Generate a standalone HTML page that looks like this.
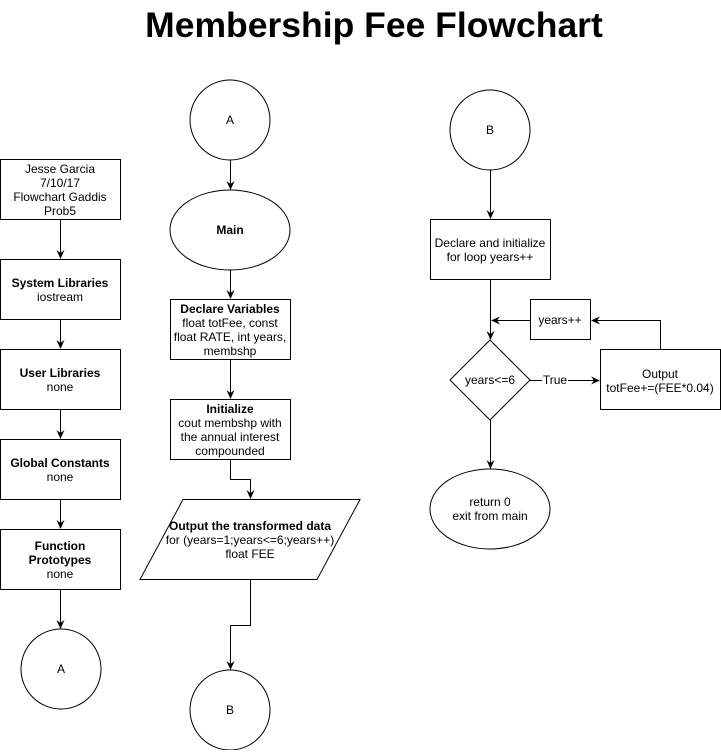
<!DOCTYPE html>
<html><head><meta charset="utf-8"><style>
body{margin:0;background:#fff;width:721px;height:750px;overflow:hidden}
text{font-family:"Liberation Sans",Arial,sans-serif;font-size:12px;fill:#000}
.b{font-weight:bold}
</style></head><body>
<svg width="721" height="750" viewBox="0 0 721 750" xmlns="http://www.w3.org/2000/svg">
<defs><marker id="a" markerWidth="10" markerHeight="10" refX="8" refY="5" orient="auto" markerUnits="userSpaceOnUse"><path d="M0,1 L9,5 L0,9 L3,5 Z" fill="#000"/></marker></defs>
<text x="374" y="37" text-anchor="middle" style="font-size:35.5px;font-weight:bold">Membership Fee Flowchart</text>
<g fill="none" stroke="#000" stroke-width="1">
<rect x="0.5" y="159.5" width="120" height="60"/>
<rect x="0.5" y="259.5" width="120" height="60"/>
<rect x="0.5" y="349.5" width="120" height="60"/>
<rect x="0.5" y="439.5" width="120" height="60"/>
<rect x="0.5" y="529.5" width="120" height="60"/>
<circle cx="61" cy="669" r="40"/>
<circle cx="230" cy="120" r="40"/>
<ellipse cx="230" cy="230" rx="60" ry="40"/>
<rect x="170.5" y="299.5" width="120" height="60"/>
<rect x="170.5" y="399.5" width="120" height="60"/>
<polygon points="183,499.5 360,499.5 317,579.5 140,579.5"/>
<circle cx="230" cy="710" r="40"/>
<circle cx="490" cy="130" r="40"/>
<rect x="430.5" y="219.5" width="120" height="60"/>
<polygon points="490,340 530,380 490,420 450,380"/>
<rect x="530.5" y="299.5" width="60" height="40"/>
<rect x="600.5" y="349.5" width="120" height="60"/>
<ellipse cx="490" cy="509" rx="60" ry="40"/>
<g marker-end="url(#a)">
<path d="M60.5 220V258"/><path d="M60.5 320V348"/><path d="M60.5 410V438"/><path d="M60.5 500V528"/><path d="M60.5 590V628"/>
<path d="M230.5 160V189"/><path d="M230.5 270V298"/><path d="M230.5 360V398"/>
<path d="M230.5 460V479.5H250.5V498"/>
<path d="M250.5 580V625.5H230.5V669"/>
<path d="M490.5 170V218"/><path d="M490.5 280V339"/>
<path d="M490.5 420V468"/>
<path d="M660.5 349V320.5H592"/><path d="M530 320.5H492"/>
<path d="M530 380.5H542M568 380.5H599"/>
</g></g>
<g text-anchor="middle">
<text x="60" y="173">Jesse Garcia</text><text x="60" y="187">7/10/17</text><text x="60" y="201">Flowchart Gaddis</text><text x="60" y="215">Prob5</text>
<text x="60" y="287" class="b">System Libraries</text><text x="60" y="301">iostream</text>
<text x="60" y="377" class="b">User Libraries</text><text x="60" y="391">none</text>
<text x="60" y="467" class="b">Global Constants</text><text x="60" y="481">none</text>
<text x="60" y="550" class="b">Function</text><text x="60" y="564" class="b">Prototypes</text><text x="60" y="578">none</text>
<text x="61" y="673">A</text><text x="230" y="124">A</text>
<text x="230" y="234" class="b">Main</text>
<text x="230" y="313" class="b">Declare Variables</text><text x="230" y="327">float totFee, const</text><text x="230" y="341">float RATE, int years,</text><text x="230" y="355">membshp</text>
<text x="230" y="413" class="b">Initialize</text><text x="230" y="427">cout membshp with</text><text x="230" y="441">the annual interest</text><text x="230" y="455">compounded</text>
<text x="250" y="530" class="b">Output the transformed data</text><text x="250" y="544">for (years=1;years&lt;=6;years++)</text><text x="250" y="558">float FEE</text>
<text x="230" y="714">B</text><text x="490" y="134">B</text>
<text x="490" y="247">Declare and initialize</text><text x="490" y="261">for loop years++</text>
<text x="490" y="384">years&lt;=6</text>
<text x="555" y="384">True</text>
<text x="560" y="324">years++</text>
<text x="660" y="378">Output</text><text x="660" y="392">totFee+=(FEE*0.04)</text>
<text x="490" y="506">return 0</text><text x="490" y="520">exit from main</text>
</g>
</svg>
</body></html>
